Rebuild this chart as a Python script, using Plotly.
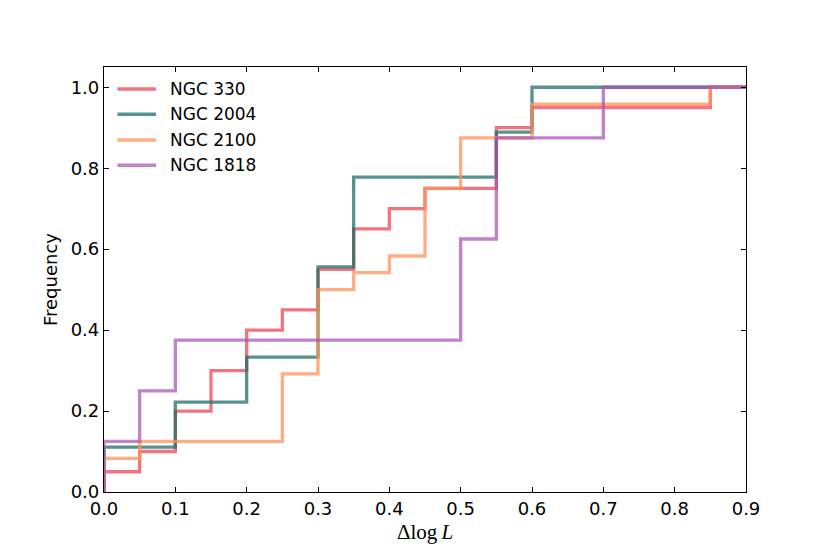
import plotly.graph_objects as go

bin_edges = [0.0, 0.05, 0.10, 0.15, 0.20, 0.25, 0.30, 0.35, 0.40, 0.45,
             0.50, 0.55, 0.60, 0.65, 0.70, 0.75, 0.80, 0.85, 0.90]

ngc330 = [0.05, 0.10, 0.20, 0.30, 0.40, 0.45, 0.55, 0.65, 0.70, 0.75,
          0.75, 0.90, 0.95, 0.95, 0.95, 0.95, 0.95, 1.00]
ngc2004 = [0.111, 0.111, 0.222, 0.222, 0.333, 0.333, 0.556, 0.778, 0.778, 0.778,
           0.778, 0.889, 1.0, 1.0, 1.0, 1.0, 1.0, 1.0]
ngc2100 = [0.083, 0.125, 0.125, 0.125, 0.125, 0.292, 0.500, 0.542, 0.583, 0.750,
           0.875, 0.875, 0.958, 0.958, 0.958, 0.958, 0.958, 1.0]
ngc1818 = [0.125, 0.25, 0.375, 0.375, 0.375, 0.375, 0.375, 0.375, 0.375, 0.375,
           0.625, 0.875, 0.875, 0.875, 1.0, 1.0, 1.0, 1.0]

series_names = ["NGC 330", "NGC 2004", "NGC 2100", "NGC 1818"]
series_values = [ngc330, ngc2004, ngc2100, ngc1818]
colors = ["rgba(238,72,88,0.76)", "rgba(30,110,105,0.75)",
          "rgba(255,145,90,0.75)", "rgba(170,80,180,0.72)"]

x_ticks = [0.0, 0.1, 0.2, 0.3, 0.4, 0.5, 0.6, 0.7, 0.8, 0.9]
y_ticks = [0.0, 0.2, 0.4, 0.6, 0.8, 1.0]

fig = go.Figure()
for name, vals, col in zip(series_names, series_values, colors):
    xs = [bin_edges[0]] + bin_edges[:-1] + [bin_edges[-1]]
    ys = [0.0] + vals + [vals[-1]]
    fig.add_trace(go.Scatter(x=xs, y=ys, mode="lines", name=name, showlegend=False,
                             line=dict(color=col, width=3.3, shape="hv")))

# manual legend (matplotlib-style: long line samples)
leg_y = [0.948, 0.889, 0.828, 0.769]
for name, col, yy in zip(series_names, colors, leg_y):
    fig.add_shape(type="line", xref="x domain", yref="y domain",
                  x0=0.021, x1=0.081, y0=yy, y1=yy,
                  line=dict(color=col, width=3.5))
    fig.add_annotation(xref="x domain", yref="y domain", x=0.099, y=yy,
                       text=name, showarrow=False, xanchor="left", yanchor="middle",
                       font=dict(family="DejaVu Sans", size=17, color="black"))

axis_common = dict(showgrid=False, zeroline=False, showline=True, mirror="ticks",
                   linecolor="black", linewidth=1.2, ticks="inside", ticklen=5,
                   tickwidth=1.2, tickcolor="black",
                   tickfont=dict(family="DejaVu Sans", size=18, color="black"))

# page body has an 8px margin; compensate so the axes sit where the reference has them
fig.update_layout(
    width=822, height=546,
    margin=dict(l=96, r=84, t=59, b=62),
    paper_bgcolor="white", plot_bgcolor="white",
    showlegend=False,
    xaxis=dict(range=[0, 0.9], tickvals=x_ticks, tickformat=".1f",
               title=dict(text="Δlog\u2009<i>L</i>", font=dict(family="Liberation Serif", size=21, color="black"),
                          standoff=6),
               **axis_common),
    yaxis=dict(range=[0, 1.05], tickvals=y_ticks, tickformat=".1f",
               title=dict(text="Frequency", font=dict(family="DejaVu Sans", size=18, color="black"),
                          standoff=8),
               **axis_common),
)

fig.write_html("out.html")
